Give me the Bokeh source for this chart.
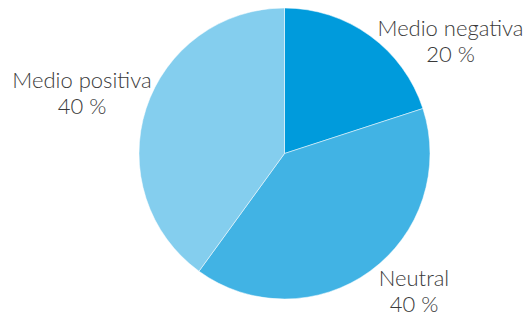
import math
from bokeh.plotting import figure
from bokeh.models import ColumnDataSource
from bokeh.core.properties import value
from bokeh.embed import file_html
from bokeh.resources import INLINE

# ---- data ----
categories = ["Medio negativa", "Neutral", "Medio positiva"]
percent = [20, 40, 40]
colors = ["#009bdc", "#41b3e4", "#84ceee"]

# ---- layout ----
W, H = 529, 320
CX, CY, R = 284, 167, 145.5
# label anchor (centre x, first-line baseline y) in plot pixels
label_pos = [(450, 293.5), (413.5, 43.5), (81.5, 241)]
LINE_GAP = 26
FONT = value("Lato Light, Lato")
FONT_SIZE = "22px"

total = sum(percent)
starts, ends = [], []
a = math.pi / 2
for v in percent:
    starts.append(a - 2 * math.pi * v / total)
    ends.append(a)
    a -= 2 * math.pi * v / total

src = ColumnDataSource(dict(cat=categories, start=starts, end=ends, color=colors,
                            x=[CX] * 3, y=[CY] * 3))

p = figure(width=W, height=H, x_range=(0, W), y_range=(0, H),
           output_backend="svg", toolbar_location=None, min_border=0)
p.axis.visible = False
p.grid.visible = False
p.outline_line_color = None
p.background_fill_color = "white"

p.wedge(x="x", y="y", radius=R, radius_units="screen",
        start_angle="start", end_angle="end", fill_color="color",
        line_color="white", line_width=0.5, source=src)

lsrc = ColumnDataSource(dict(
    x=[lp[0] for lp in label_pos],
    y1=[lp[1] for lp in label_pos],
    y2=[lp[1] - LINE_GAP for lp in label_pos],
    t1=categories,
    t2=[f"{v} %" for v in percent],
))
for ycol, tcol in (("y1", "t1"), ("y2", "t2")):
    p.text(x="x", y=ycol, text=tcol, source=lsrc, text_align="center",
           text_baseline="alphabetic", text_font=FONT, text_font_size=FONT_SIZE,
           text_color="#3a3a3a")

open("out.html", "w").write(file_html(p, INLINE))
